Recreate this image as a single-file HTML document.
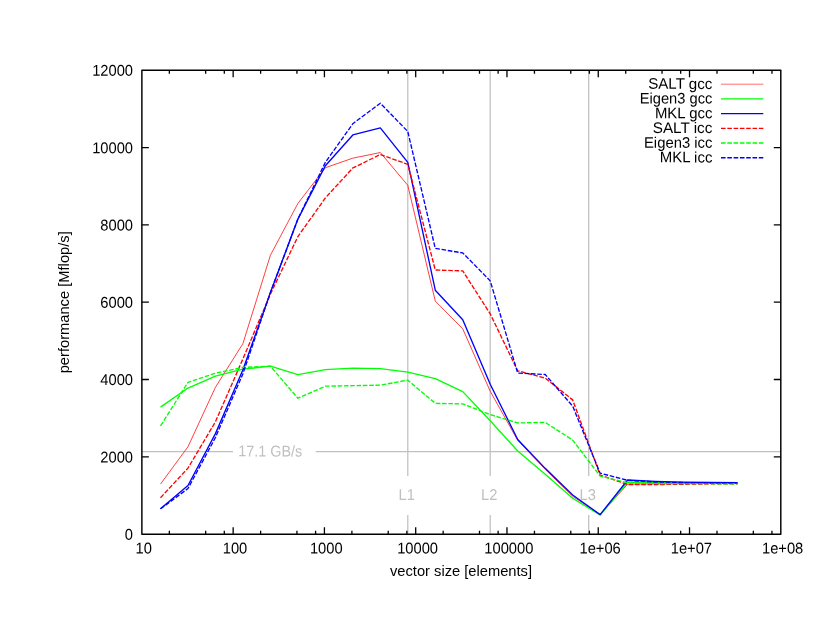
<!DOCTYPE html>
<html><head><meta charset="utf-8"><title>plot</title>
<style>html,body{margin:0;padding:0;background:#fff;}svg{display:block;will-change:transform;}text{font-family:"Liberation Sans",sans-serif;font-size:14.7px;}</style>
</head><body>
<svg width="830" height="642" viewBox="0 0 830 642">
<rect x="0" y="0" width="830" height="642" fill="#ffffff"/>
<g stroke="#c0c0c0" stroke-width="1.25" fill="none">
<path d="M141.87 451.67H233.0M315.7 451.67H780.80"/>
<path d="M407.79 70.25V475.9M407.79 514.9V534.15"/>
<path d="M490.22 70.25V475.9M490.22 514.9V534.15"/>
<path d="M588.72 70.25V475.9M588.72 514.9V534.15"/>
</g>
<g fill="#c0c0c0">
<text transform="translate(270.3,456.4) rotate(0.05) scale(0.923,1)" style="font-size:15.6px" text-anchor="middle">17.1 GB/s</text>
<text transform="translate(406.79,499.9) rotate(0.05) scale(0.942,1)" style="font-size:15.6px" text-anchor="middle">L1</text>
<text transform="translate(489.22,499.9) rotate(0.05) scale(0.942,1)" style="font-size:15.6px" text-anchor="middle">L2</text>
<text transform="translate(587.72,499.9) rotate(0.05) scale(0.942,1)" style="font-size:15.6px" text-anchor="middle">L3</text>
</g>
<polyline points="160.50,484.09 187.98,446.78 215.45,387.25 242.93,343.60 270.41,255.23 297.88,203.47 325.36,167.71 352.84,158.16 380.32,152.55 407.79,185.34 435.27,301.12 462.75,328.87 490.22,391.27 517.70,440.36 545.18,469.32 572.65,496.30 600.13,514.63 627.61,484.16 655.08,483.89 682.56,483.70 710.04,483.51 737.51,483.51" fill="none" stroke="#ff0000" stroke-width="0.75" stroke-linejoin="round"/>
<polyline points="160.50,407.08 187.98,388.02 215.45,376.19 242.93,369.19 270.41,366.18 297.88,374.68 325.36,369.70 352.84,368.19 380.32,368.69 407.79,372.17 435.27,378.67 462.75,391.66 490.22,420.69 517.70,451.03 545.18,474.15 572.65,498.24 600.13,515.01 627.61,482.23 655.08,482.73 682.56,482.93 710.04,483.12 737.51,483.20" fill="none" stroke="#00ff00" stroke-width="1.35" stroke-linejoin="round"/>
<polyline points="160.50,508.67 187.98,485.48 215.45,433.64 242.93,369.85 270.41,292.54 297.88,219.08 325.36,165.74 352.84,134.93 380.32,127.93 407.79,162.33 435.27,290.22 462.75,319.79 490.22,384.27 517.70,439.48 545.18,468.35 572.65,494.95 600.13,514.63 627.61,480.03 655.08,481.38 682.56,482.15 710.04,482.54 737.51,482.73" fill="none" stroke="#0000ff" stroke-width="1.35" stroke-linejoin="round"/>
<polyline points="160.50,497.73 187.98,468.12 215.45,421.77 242.93,358.87 270.41,294.08 297.88,236.56 325.36,197.94 352.84,167.98 380.32,154.53 407.79,164.34 435.27,270.00 462.75,270.89 490.22,313.87 517.70,370.78 545.18,378.09 572.65,399.85 600.13,475.12 627.61,484.47 655.08,484.55 682.56,484.28 710.04,483.89 737.51,483.78" fill="none" stroke="#ff0000" stroke-width="1.35" stroke-linejoin="round" stroke-dasharray="4.6 1.7"/>
<polyline points="160.50,425.95 187.98,382.38 215.45,373.18 242.93,367.42 270.41,366.18 297.88,398.19 325.36,386.20 352.84,385.66 380.32,385.16 407.79,380.17 435.27,403.37 462.75,403.87 490.22,414.58 517.70,422.97 545.18,422.39 572.65,440.06 600.13,476.09 627.61,482.81 655.08,483.43 682.56,483.58 710.04,483.70 737.51,483.78" fill="none" stroke="#00ff00" stroke-width="1.35" stroke-linejoin="round" stroke-dasharray="4.6 1.7"/>
<polyline points="160.50,508.83 187.98,488.53 215.45,437.50 242.93,373.72 270.41,292.54 297.88,219.08 325.36,162.33 352.84,123.71 380.32,103.26 407.79,131.52 435.27,248.43 462.75,252.91 490.22,280.90 517.70,373.10 545.18,374.49 572.65,406.04 600.13,473.19 627.61,480.30 655.08,481.96 682.56,482.54 710.04,482.73 737.51,482.81" fill="none" stroke="#0000ff" stroke-width="1.35" stroke-linejoin="round" stroke-dasharray="4.6 1.7"/>
<path d="M721.0 84.20H763.3" fill="none" stroke="#ff0000" stroke-width="0.58"/>
<text transform="translate(712.4,88.90) rotate(0.05) scale(0.9896,1)" style="font-size:15.30px" text-anchor="end" fill="#000000">SALT gcc</text>
<path d="M721.0 98.90H763.3" fill="none" stroke="#00ff00" stroke-width="1.35"/>
<text transform="translate(712.4,103.60) rotate(0.05) scale(0.9608,1)" style="font-size:15.30px" text-anchor="end" fill="#000000">Eigen3 gcc</text>
<path d="M721.0 113.60H763.3" fill="none" stroke="#0000ff" stroke-width="1.35"/>
<text transform="translate(712.4,118.30) rotate(0.05) scale(0.9752,1)" style="font-size:15.30px" text-anchor="end" fill="#000000">MKL gcc</text>
<path d="M721.0 128.30H763.3" fill="none" stroke="#ff0000" stroke-width="1.35" stroke-dasharray="4.6 1.7"/>
<text transform="translate(712.4,133.00) rotate(0.05) scale(0.9992,1)" style="font-size:15.30px" text-anchor="end" fill="#000000">SALT icc</text>
<path d="M721.0 143.00H763.3" fill="none" stroke="#00ff00" stroke-width="1.35" stroke-dasharray="4.6 1.7"/>
<text transform="translate(712.4,147.70) rotate(0.05) scale(0.9704,1)" style="font-size:15.30px" text-anchor="end" fill="#000000">Eigen3 icc</text>
<path d="M721.0 157.70H763.3" fill="none" stroke="#0000ff" stroke-width="1.35" stroke-dasharray="4.6 1.7"/>
<text transform="translate(712.4,162.40) rotate(0.05) scale(0.9800,1)" style="font-size:15.30px" text-anchor="end" fill="#000000">MKL icc</text>
<g stroke="#000000" stroke-width="1.45" fill="none">
<rect x="141.87" y="70.25" width="638.93" height="463.90" stroke-linejoin="round"/>
<path d="M169.35 534.15v-3.50M169.35 70.25v3.50M205.67 534.15v-3.50M205.67 70.25v3.50M224.30 534.15v-3.50M224.30 70.25v3.50M233.15 534.15v-7.00M233.15 70.25v7.00M260.62 534.15v-3.50M260.62 70.25v3.50M296.94 534.15v-3.50M296.94 70.25v3.50M315.58 534.15v-3.50M315.58 70.25v3.50M324.42 534.15v-7.00M324.42 70.25v7.00M351.90 534.15v-3.50M351.90 70.25v3.50M388.22 534.15v-3.50M388.22 70.25v3.50M406.85 534.15v-3.50M406.85 70.25v3.50M415.70 534.15v-7.00M415.70 70.25v7.00M443.17 534.15v-3.50M443.17 70.25v3.50M479.50 534.15v-3.50M479.50 70.25v3.50M498.13 534.15v-3.50M498.13 70.25v3.50M506.97 534.15v-7.00M506.97 70.25v7.00M534.45 534.15v-3.50M534.45 70.25v3.50M570.77 534.15v-3.50M570.77 70.25v3.50M589.40 534.15v-3.50M589.40 70.25v3.50M598.25 534.15v-7.00M598.25 70.25v7.00M625.73 534.15v-3.50M625.73 70.25v3.50M662.05 534.15v-3.50M662.05 70.25v3.50M680.68 534.15v-3.50M680.68 70.25v3.50M689.52 534.15v-7.00M689.52 70.25v7.00M717.00 534.15v-3.50M717.00 70.25v3.50M753.32 534.15v-3.50M753.32 70.25v3.50M771.95 534.15v-3.50M771.95 70.25v3.50M141.87 456.83h7.00M780.80 456.83h-7.00M141.87 379.52h7.00M780.80 379.52h-7.00M141.87 302.20h7.00M780.80 302.20h-7.00M141.87 224.88h7.00M780.80 224.88h-7.00M141.87 147.57h7.00M780.80 147.57h-7.00" stroke-width="1.3"/>
</g>
<g fill="#000000">
<text transform="translate(133.0,539.75) rotate(0.05) scale(0.942,1)" style="font-size:15.60px" text-anchor="end">0</text>
<text transform="translate(133.0,462.43) rotate(0.05) scale(0.942,1)" style="font-size:15.60px" text-anchor="end">2000</text>
<text transform="translate(133.0,385.12) rotate(0.05) scale(0.942,1)" style="font-size:15.60px" text-anchor="end">4000</text>
<text transform="translate(133.0,307.80) rotate(0.05) scale(0.942,1)" style="font-size:15.60px" text-anchor="end">6000</text>
<text transform="translate(133.0,230.48) rotate(0.05) scale(0.942,1)" style="font-size:15.60px" text-anchor="end">8000</text>
<text transform="translate(133.0,153.17) rotate(0.05) scale(0.942,1)" style="font-size:15.60px" text-anchor="end">10000</text>
<text transform="translate(133.0,75.85) rotate(0.05) scale(0.942,1)" style="font-size:15.60px" text-anchor="end">12000</text>
<text transform="translate(143.72,553.6) rotate(0.05) scale(0.942,1)" style="font-size:15.60px" text-anchor="middle">10</text>
<text transform="translate(235.00,553.6) rotate(0.05) scale(0.942,1)" style="font-size:15.60px" text-anchor="middle">100</text>
<text transform="translate(326.27,553.6) rotate(0.05) scale(0.942,1)" style="font-size:15.60px" text-anchor="middle">1000</text>
<text transform="translate(417.55,553.6) rotate(0.05) scale(0.942,1)" style="font-size:15.60px" text-anchor="middle">10000</text>
<text transform="translate(508.82,553.6) rotate(0.05) scale(0.942,1)" style="font-size:15.60px" text-anchor="middle">100000</text>
<text transform="translate(600.10,553.6) rotate(0.05) scale(0.942,1)" style="font-size:15.60px" text-anchor="middle">1e+06</text>
<text transform="translate(691.37,553.6) rotate(0.05) scale(0.942,1)" style="font-size:15.60px" text-anchor="middle">1e+07</text>
<text transform="translate(782.65,553.6) rotate(0.05) scale(0.942,1)" style="font-size:15.60px" text-anchor="middle">1e+08</text>
<text x="461.0" y="575.8" text-anchor="middle">vector size [elements]</text>
<text transform="translate(69.3,302.3) rotate(-90)" text-anchor="middle">performance [Mflop/s]</text>
</g>
</svg></body></html>
